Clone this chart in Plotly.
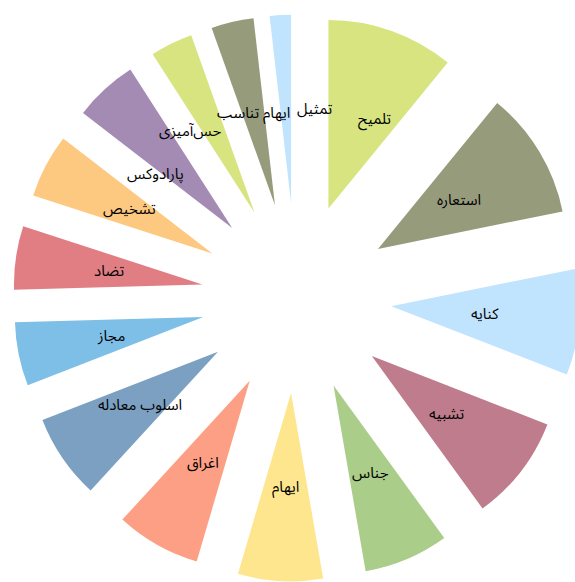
import math
import plotly.graph_objects as go

# ---- data ----
categories = ["تلمیح", "استعاره", "کنایه", "تشبیه", "جناس", "ایهام", "اغراق",
              "اسلوب معادله", "مجاز", "تضاد", "تشخیص", "پارادوکس", "حس‌آمیزی",
              "ایهام تناسب", "تمثیل"]
values = [6, 6, 5, 5, 4, 4, 4, 4, 3, 3, 3, 3, 2, 2, 1]

# ---- style ----
palette = ["#D7E47F", "#969B7C", "#C0E3FE", "#BE7C8C", "#ABCD8A", "#FDE68D",
           "#FD9F84", "#7BA0C2", "#7DBFE6", "#E17E84", "#FDC880", "#A38BB4"]
colors = [palette[i % len(palette)] for i in range(len(categories))]
# label nudges in screen pixels (right, down); the original moved a few labels
label_nudge = {"تلمیح": (14, 0), "تمثیل": (29, 0),
               "پارادوکس": (-13, 16), "حس‌آمیزی": (-23, 3)}

W, H = 580, 582
ML, MR, MT, MB = 12.5, 0, 14.3, 0.3
PULL = 0.505

box_w = W - ML - MR
box_h = H - MT - MB
cx = ML + box_w / 2
cy = MT + box_h / 2
R = min(box_w, box_h) / (2 * (1 + PULL))

fig = go.Figure(go.Pie(
    labels=categories, values=values, sort=False, direction="clockwise",
    rotation=0, pull=PULL, textinfo="none", hoverinfo="label+value",
    marker=dict(colors=colors, line=dict(width=0)), showlegend=False,
))

total = sum(values)
acc = 0
annotations = []
for cat, v in zip(categories, values):
    mid = (acc + v / 2) / total * 2 * math.pi
    acc += v
    rad = PULL * R + R / 2
    px = cx + rad * math.sin(mid)
    py = cy - rad * math.cos(mid)
    dx, dy = label_nudge.get(cat, (0, 0))
    annotations.append(dict(
        text=cat, x=(px - ML) / box_w, y=1 - (py - MT) / box_h,
        xref="paper", yref="paper", showarrow=False,
        xanchor="center", yanchor="middle", xshift=dx, yshift=-dy,
        font=dict(family="Noto Sans Arabic, Noto Naskh Arabic, DejaVu Sans",
                  size=15, color="#000000"),
    ))

fig.update_layout(
    width=W, height=H, autosize=False,
    margin=dict(l=ML, r=MR, t=MT, b=MB, pad=0),
    paper_bgcolor="#FFFFFF", plot_bgcolor="#FFFFFF",
    annotations=annotations,
)

fig.write_html(
    "out.html",
    config={"displayModeBar": False},
    post_script="document.body.style.margin='0';document.body.style.overflow='hidden';"
                "document.documentElement.style.overflow='hidden';",
)
